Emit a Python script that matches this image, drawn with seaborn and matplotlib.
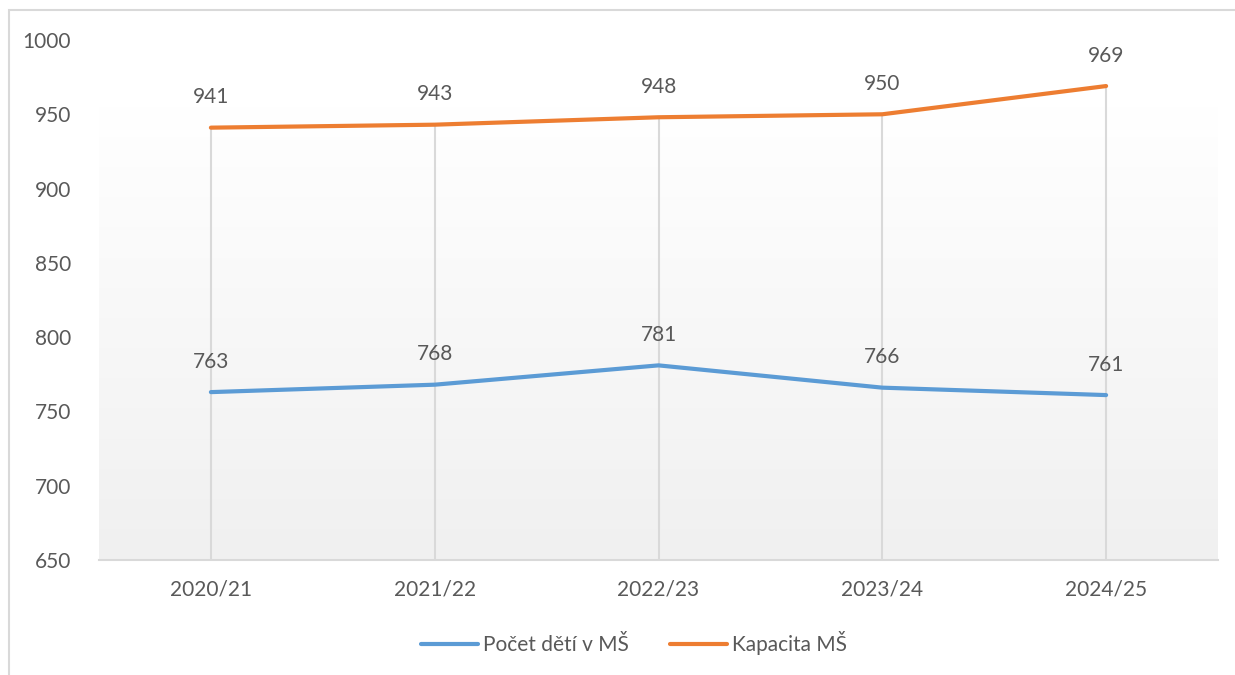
import numpy as np
import pandas as pd
import matplotlib
matplotlib.use("Agg")
import matplotlib.pyplot as plt
import seaborn as sns
from matplotlib.lines import Line2D
from matplotlib.patches import Rectangle

categories = ["2020/21", "2021/22", "2022/23", "2023/24", "2024/25"]
pocet_deti = [763, 768, 781, 766, 761]
kapacita = [941, 943, 948, 950, 969]
series_names = ["Počet dětí v MŠ", "Kapacita MŠ"]
colors = ["#5B9BD5", "#ED7D31"]
yticks = [650, 700, 750, 800, 850, 900, 950, 1000]

df = pd.DataFrame({
    "rok": categories * 2,
    "hodnota": pocet_deti + kapacita,
    "serie": [series_names[0]] * 5 + [series_names[1]] * 5,
})

sns.set_theme(style="white")
plt.rcParams["font.family"] = ["Lato", "DejaVu Sans"]
text_color = "#595959"

fig = plt.figure(figsize=(12.35, 6.75), dpi=100)
ax = fig.add_axes([99 / 1235, 1 - 560 / 675, (1218 - 99) / 1235, 520 / 675])

# chart border (cut off at right/bottom like reference)
fig.patches.append(Rectangle((9 / 1235, -0.1), 1.2, 1 - 10 / 675 + 0.1,
                             transform=fig.transFigure, fill=False,
                             edgecolor="#D9D9D9", linewidth=1.5, zorder=0))

sns.lineplot(data=df, x="rok", y="hodnota", hue="serie", palette=colors,
             linewidth=3.0, ax=ax, legend=False, zorder=3,
             solid_capstyle="round")

ax.set_xlim(-0.5, 4.5)
ax.set_ylim(650, 1000)

# gradient background
grad = np.linspace(0, 1, 256).reshape(-1, 1)
top = np.array([1.0, 1.0, 1.0])
bot = np.array([0xF0, 0xF0, 0xF0]) / 255
img = top[None, None, :] * (1 - grad[:, :, None]) + bot[None, None, :] * grad[:, :, None]
ax.imshow(img, extent=[-0.5, 4.5, 650, 955], aspect="auto", origin="upper", zorder=0)

# drop lines from highest point to the axis
tops = [max(a, b) for a, b in zip(pocet_deti, kapacita)]
ax.vlines(range(len(categories)), 650, tops, color="#D9D9D9", linewidth=1.5, zorder=1)

for vals in (pocet_deti, kapacita):
    for i, v in enumerate(vals):
        ax.annotate(str(v), (i, v), xytext=(0, 22), textcoords="offset points",
                    ha="center", va="center", fontsize=15, color=text_color)

ax.set_yticks(yticks)
ax.set_xticks(range(len(categories)))
ax.set_xticklabels(categories)
ax.tick_params(axis="both", length=0, labelsize=15, labelcolor=text_color)
ax.tick_params(axis="y", pad=20)
ax.tick_params(axis="x", pad=14)
ax.set_xlabel("")
ax.set_ylabel("")
for s in ["top", "right", "left"]:
    ax.spines[s].set_visible(False)
ax.spines["bottom"].set_color("#D9D9D9")
ax.spines["bottom"].set_linewidth(1.5)
ax.spines["bottom"].set_zorder(2)
ax.grid(False)

handles = [Line2D([], [], color=c, linewidth=3.0, solid_capstyle="round") for c in colors]
fig.legend(handles, series_names, loc="center", bbox_to_anchor=(634 / 1235, 1 - 643 / 675),
           ncol=2, frameon=False, fontsize=15, labelcolor=text_color,
           handlelength=2.7, handletextpad=0.25, columnspacing=2.0)

fig.savefig("out.png", dpi=100, facecolor="white")
